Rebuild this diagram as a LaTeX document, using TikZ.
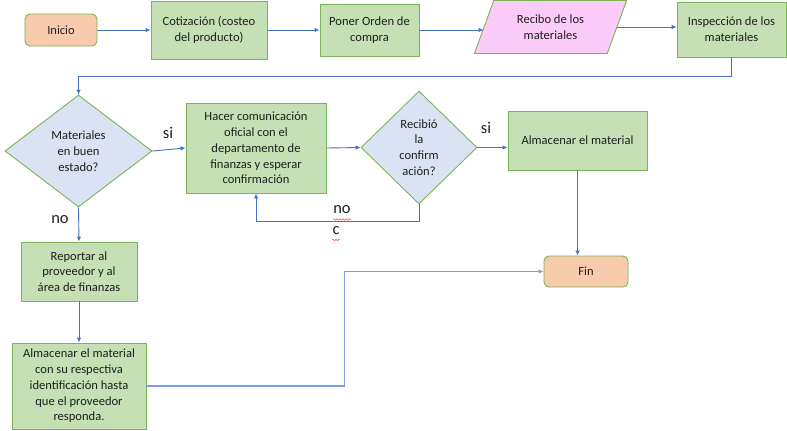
\documentclass[tikz,border=0pt]{standalone}
\usepackage{fontspec}
\setmainfont{Carlito}
\usetikzlibrary{shapes.geometric,arrows.meta,decorations.pathmorphing}
\definecolor{boxfill}{HTML}{C5E0B4}
\definecolor{boxedge}{HTML}{7CB356}
\definecolor{termfill}{HTML}{F8CBAD}
\definecolor{decfill}{HTML}{DAE3F3}
\definecolor{iofill}{HTML}{FBCCF9}
\definecolor{linkblue}{HTML}{4472C4}
\definecolor{linklight}{HTML}{7C9FE0}
\definecolor{txt}{HTML}{1E1E1E}
\begin{document}
\begin{tikzpicture}[x=1bp,y=-1bp,
  every node/.style={text=txt},
  base/.style={draw=boxedge, line width=0.9bp, align=center, inner sep=0pt,
    font=\fontsize{12.6}{15.8}\selectfont},
  proc/.style={base, rectangle, fill=boxfill},
  term/.style={base, rectangle, rounded corners=5bp, fill=termfill},
  dec/.style={base, diamond, fill=decfill},
  io/.style={base, trapezium, trapezium left angle=65, trapezium right angle=115,
    trapezium stretches=true, fill=iofill},
  conn/.style={draw=linkblue, line width=0.9bp, -{Latex[length=5bp,width=4.5bp]}},
  lbl/.style={font=\fontsize{16.5}{18}\selectfont, inner sep=0pt},
  squig/.style={draw=red!70, line width=0.5bp,
    decorate, decoration={snake, amplitude=0.8bp, segment length=3bp}}
]
\useasboundingbox (0,0) rectangle (787,430);

% top row
\node[term, minimum width=72bp, minimum height=32bp] (inicio) at (61,30) {Inicio};
\node[proc, minimum width=116bp, minimum height=58bp] (cot) at (209,30) {Cotización (costeo\\del producto)};
\node[proc, minimum width=99bp, minimum height=52bp] (poner) at (369.5,30) {Poner Orden de\\compra};
\node[io, minimum width=153bp, minimum height=53bp] (recibo) at (550.5,27) {Recibo de los\\materiales};
\node[proc, minimum width=109bp, minimum height=55bp] (insp) at (731.5,29.5) {Inspección de los\\materiales};

% middle row
\node[dec, minimum width=147bp, minimum height=112bp] (d1) at (78.5,151) {Materiales\\en buen\\estado?};
\node[proc, minimum width=140bp, minimum height=90bp] (hacer) at (256,148) {Hacer comunicación\\oficial con el\\departamento de\\finanzas y esperar\\confirmación};
\node[dec, minimum width=116bp, minimum height=113bp] (d2) at (419,147.5) {Recibió\\la\\confirm\\ación?};
\node[proc, minimum width=139bp, minimum height=59bp] (alm) at (577.5,140.5) {Almacenar el material};

% lower part
\node[term, minimum width=84bp, minimum height=31bp] (fin) at (586,271.5) {Fin};
\node[proc, minimum width=116bp, minimum height=59bp] (rep) at (79,271.5) {Reportar al\\proveedor y al\\área de finanzas};
\node[proc, minimum width=134bp, minimum height=86bp] (alm2) at (79,386) {Almacenar el material\\con su respectiva\\identificación hasta\\que el proveedor\\responda.};

% connectors
\draw[conn] (inicio.east) -- (cot.west);
\draw[conn] (cot.east) -- (poner.west);
\draw[conn] (poner.east) -- (poner.east -| recibo.west);
\draw[conn] (recibo.east) -- (recibo.east -| insp.west);
\draw[conn] (insp.south) -- ++(0,19) -| (d1.north);
\draw[conn] (d1.east) -- (hacer.west);
\draw[conn] (hacer.east) -- (d2.west);
\draw[conn] (d2.east) -- (d2.east -| alm.west);
\draw[conn] (d2.south) -- ++(0,17) -| (hacer.south);
\draw[conn] (alm.south) -- (alm.south |- fin.north);
\draw[conn] (d1.south) -- (rep.north);
\draw[conn] (rep.south) -- (alm2.north);
\draw[conn, draw=linklight, line width=1.3bp] (alm2.east) -- ++(198,0) |- (fin.west);

% branch labels
\node[lbl] (si1) at (168,133) {si};
\node[lbl] (si2) at (486,128) {si};
\node[lbl] (no1) at (60,220) {no};
\node[lbl] (no2) at (342,210) {no};
\node[lbl] (c2) at (336,231) {c};
\draw[squig] (333,219.5) -- (351,219.5);
\draw[squig] (332,240) -- (340,240);
\end{tikzpicture}
\end{document}
